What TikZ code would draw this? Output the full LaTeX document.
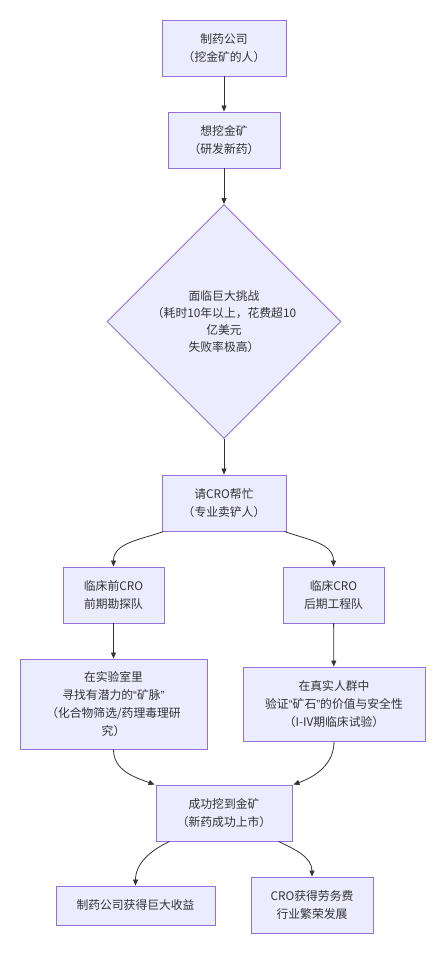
\documentclass[tikz,border=0pt]{standalone}
\usepackage{fontspec}
\setmainfont{Noto Sans CJK SC}
\newfontfamily\latinq{Liberation Sans}
\newcommand{\myoq}{{\latinq “}}
\newcommand{\mycq}{{\latinq ”}}
\usetikzlibrary{shapes.geometric,arrows.meta}
\definecolor{boxfill}{HTML}{ECECFF}
\definecolor{boxline}{HTML}{9370DB}
\definecolor{ink}{HTML}{333333}
\tikzset{
  stepbox/.style={draw=boxline, fill=boxfill, line width=0.9pt, inner sep=0pt,
    align=center, text=ink, font={\fontsize{11.8pt}{18pt}\selectfont}},
  decision/.style={diamond, draw=boxline, fill=boxfill, line width=0.9pt, inner sep=0pt,
    minimum width=234pt, minimum height=234pt, align=center, text=ink,
    font={\fontsize{11.8pt}{17pt}\selectfont}},
  arr/.style={draw=ink, line width=0.8pt, -{Triangle[length=6pt,width=5pt]}}
}
\begin{document}
\begin{tikzpicture}[x=1pt,y=-1pt]
\useasboundingbox (0,0) rectangle (445,954);
\node[stepbox, minimum width=124pt, minimum height=56pt] (b1) at (224,48) {制药公司\\（挖金矿的人）};
\node[stepbox, minimum width=112pt, minimum height=56pt] (b2) at (224,140) {想挖金矿\\（研发新药）};
\node[decision] (d) at (224,321.5) {面临巨大挑战\\（耗时10年以上，花费超10\\亿美元\\失败率极高）};
\node[stepbox, minimum width=124pt, minimum height=56pt] (b3) at (224,503) {请CRO帮忙\\（专业卖铲人）};
\node[stepbox, minimum width=101pt, minimum height=56pt] (b4) at (113.5,595) {临床前CRO\\前期勘探队};
\node[stepbox, minimum width=101pt, minimum height=56pt] (b5) at (333.5,595) {临床CRO\\后期工程队};
\node[stepbox, minimum width=187pt, minimum height=90pt] (b6) at (113.5,704) {在实验室里\\寻找有潜力的\myoq 矿脉\mycq\\（化合物筛选/药理毒理研\\究）};
\node[stepbox, minimum width=182pt, minimum height=74pt] (b7) at (334,704) {在真实人群中\\验证\myoq 矿石\mycq 的价值与安全性\\（I-IV期临床试验）};
\node[stepbox, minimum width=136pt, minimum height=56pt] (b8) at (224,813) {成功挖到金矿\\（新药成功上市）};
\node[stepbox, minimum width=159pt, minimum height=39pt] (b9) at (135.5,905.5) {制药公司获得巨大收益};
\node[stepbox, minimum width=122pt, minimum height=56pt] (b10) at (312,905) {CRO获得劳务费\\行业繁荣发展};

\draw[arr] (b1) -- (b2);
\draw[arr] (b2) -- (d);
\draw[arr] (d) -- (b3);
\draw[arr] ([xshift=2pt]b3.south west) to[out=200, in=90] (b4.north);
\draw[arr] ([xshift=-2pt]b3.south east) to[out=-20, in=90] (b5.north);
\draw[arr] (b4) -- (b6);
\draw[arr] (b5) -- (b7);
\draw[arr] (b6.south) to[out=-90, in=160] ([xshift=-1pt]b8.north west);
\draw[arr] (b7.south) to[out=-90, in=20] ([xshift=1pt]b8.north east);
\draw[arr] ([xshift=14pt]b8.south west) to[out=205, in=90] (b9.north);
\draw[arr] ([xshift=-14pt]b8.south east) to[out=-25, in=90] (b10.north);
\end{tikzpicture}
\end{document}
